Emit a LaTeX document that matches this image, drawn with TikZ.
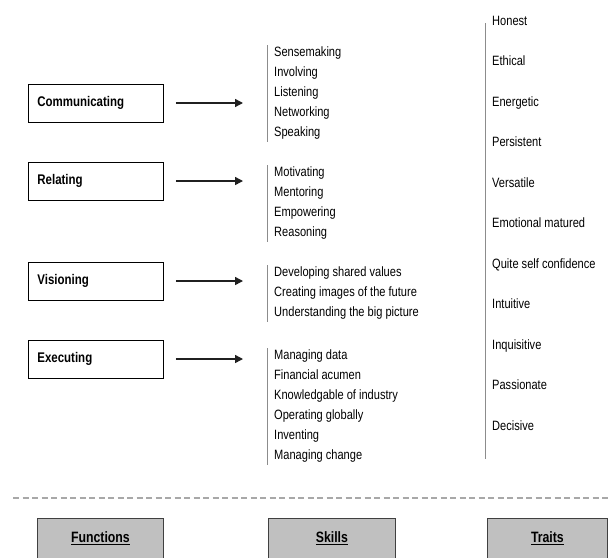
\documentclass[tikz,border=0pt]{standalone}
\usepackage{fontspec}
\setmainfont[FakeStretch=0.82]{Liberation Sans}
\usetikzlibrary{arrows.meta}

\begin{document}
\begin{tikzpicture}[x=1pt, y=-1pt,
    funcBox/.style={draw=black, line width=0.8pt, text width=117pt, align=left,
        minimum height=38pt, inner xsep=9pt, anchor=west,
        font=\fontsize{14}{16}\selectfont\bfseries},
    itemList/.style={align=left, anchor=north west, inner xsep=7pt, inner ysep=2pt},
    listBar/.style={draw=barColour, line width=1pt},
    linkArrow/.style={-{Triangle[length=8pt,width=8pt]}, line width=1.4pt,
        draw=arrowColour, fill=arrowColour, shorten <=12pt, shorten >=24pt},
    headBox/.style={draw=headBorder, fill=headFill, line width=0.8pt,
        anchor=north west, minimum height=40pt,
        font=\fontsize{15}{18}\selectfont\bfseries}]
    \definecolor{barColour}{HTML}{8C8C8C}
    \definecolor{arrowColour}{HTML}{202020}
    \definecolor{headBorder}{HTML}{404040}
    \definecolor{headFill}{HTML}{C0C0C0}
    \definecolor{dashColour}{HTML}{A8A8A8}

    \def\skillX{267}
    \def\skillFont{\fontsize{13.5}{20}\selectfont}

    \useasboundingbox (0,0) rectangle (609,557);

    % functions
    \foreach \name/\label/\y in {comm/Communicating/103, rel/Relating/181,
        vis/Visioning/281, exec/Executing/359}
        \node[funcBox] (\name) at (28,\y) {\label};

    % skills
    \node[itemList, font=\skillFont] (skcomm) at (\skillX,45)
        {Sensemaking\\Involving\\Listening\\Networking\\Speaking};
    \node[itemList, font=\skillFont] (skrel) at (\skillX,165)
        {Motivating\\Mentoring\\Empowering\\Reasoning};
    \node[itemList, font=\skillFont] (skvis) at (\skillX,265)
        {Developing shared values\\Creating images of the future\\Understanding the big picture};
    \node[itemList, font=\skillFont] (skexec) at (\skillX,348)
        {Managing data\\Financial acumen\\Knowledgable of industry\\Operating globally\\Inventing\\Managing change};

    \foreach \name in {comm,rel,vis,exec} {
        \draw[listBar] (sk\name.north west) -- (sk\name.south west);
        \draw[linkArrow] (\name.east) -- (\name.east -| sk\name.west);
    }

    % traits
    \node[itemList, font=\fontsize{13.5}{40.5}\selectfont] (traits) at (485,14)
        {Honest\\Ethical\\Energetic\\Persistent\\Versatile\\Emotional matured\\Quite self confidence\\Intuitive\\Inquisitive\\Passionate\\Decisive};
    \draw[listBar] ([yshift=-9pt]traits.north west) -- ([yshift=-26pt]traits.south west);

    % footer
    \draw[dashColour, line width=1.3pt, dash pattern=on 6pt off 3.5pt] (13,498) -- (609,498);

    \node[headBox, minimum width=126pt] (headFunc) at (37,518) {\underline{Functions}};
    \node[headBox, minimum width=127pt] (headSkill) at (268,518) {\underline{Skills}};
    \node[headBox, minimum width=120pt] (headTrait) at (487,518) {\underline{Traits}};

\end{tikzpicture}
\end{document}
